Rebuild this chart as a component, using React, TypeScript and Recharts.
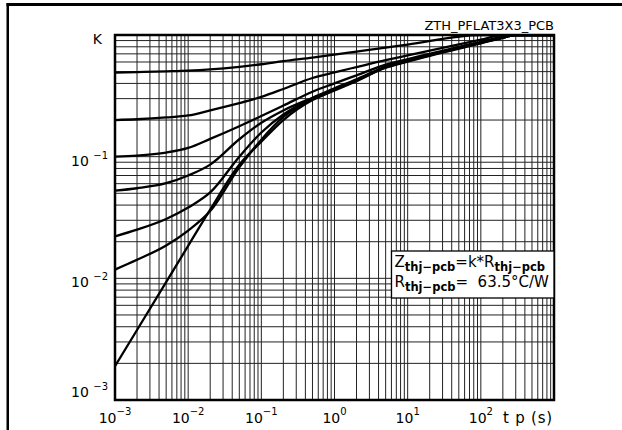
import React from 'react';
import { LineChart, Line, XAxis, YAxis, CartesianGrid, ReferenceArea } from 'recharts';

// pulse duration t p (s)
const tValues = [0.001, 0.002, 0.005, 0.01, 0.02, 0.05, 0.1, 0.2, 0.5, 1, 2, 5, 10, 100, 200, 300, 1000];

// K for each duty cycle
const kD050 = [0.49, 0.495, 0.503, 0.51, 0.522, 0.548, 0.575, 0.61, 0.653, 0.69, 0.73, 0.787, 0.835, 1, 1, 1, 1];
const kD020 = [0.2, 0.203, 0.21, 0.218, 0.24, 0.275, 0.31, 0.36, 0.443, 0.493, 0.545, 0.621, 0.68, 0.915, 1, 1, 1];
const kD010 = [0.1, 0.102, 0.108, 0.118, 0.14, 0.178, 0.216, 0.263, 0.342, 0.4, 0.466, 0.57, 0.635, 0.879, 0.97, 1, 1];
const kD005 = [0.0525, 0.055, 0.0605, 0.07, 0.086, 0.139, 0.19, 0.24, 0.305, 0.365, 0.432, 0.55, 0.62, 0.87, 0.955, 1, 1];
const kD002 = [0.0221, 0.0251, 0.0307, 0.0382, 0.0508, 0.1, 0.158, 0.222, 0.3, 0.36, 0.427, 0.546, 0.615, 0.865, 0.952, 1, 1];
const kD001 = [0.0118, 0.0142, 0.0186, 0.0247, 0.0357, 0.0817, 0.138, 0.212, 0.296, 0.355, 0.422, 0.542, 0.61, 0.86, 0.95, 1, 1];
const kSingle = [0.0019, 0.00376, 0.0093, 0.0185, 0.0367, 0.0858, 0.133, 0.2, 0.292, 0.35, 0.418, 0.538, 0.605, 0.855, 0.948, 1, 1];

const seriesKeys = ['d050', 'd020', 'd010', 'd005', 'd002', 'd001', 'single'];
const seriesValues = [kD050, kD020, kD010, kD005, kD002, kD001, kSingle];

// axis ticks
const xDecades = [0.001, 0.01, 0.1, 1, 10, 100];
const xDecadeExp = ['\u22123', '\u22122', '\u22121', '0', '1', '2'];
const xEndValue = 1000;
const xEndLabel = 't p (s)';
const yDecades = [0.001, 0.01, 0.1];
const yDecadeExp = ['\u22123', '\u22122', '\u22121'];
const yTopValue = 1;
const yTopLabel = 'K';
const minorMult = [1, 2, 3, 4, 5, 6, 7, 8, 9];

const xTicks = [...xDecades.flatMap((d) => minorMult.map((m) => +(m * d).toPrecision(3))), xEndValue];
const yTicks = [...yDecades.flatMap((d) => minorMult.map((m) => +(m * d).toPrecision(3))), yTopValue];

const titleText = 'ZTH_PFLAT3X3_PCB';
const subText = 'thj\u2212pcb';
const rthValue = '63.5\u00B0C/W';

const data = tValues.map((t, i) => {
  const row: Record<string, number> = { t };
  seriesKeys.forEach((k, j) => {
    row[k] = seriesValues[j][i];
  });
  return row;
});

const FONT = '"DejaVu Sans", sans-serif';

const findIdx = (arr: number[], v: number) => arr.findIndex((d) => Math.abs(d - v) / d < 1e-6);

const XTick = (props: any) => {
  const { x, y, payload } = props;
  const v = payload.value;
  if (Math.abs(v - xEndValue) < 1e-6) {
    return (
      <text x={x - 1} y={y + 15} textAnchor="end" fontFamily={FONT} fontSize={15} letterSpacing={0.8} fill="#000">
        {xEndLabel}
      </text>
    );
  }
  const idx = findIdx(xDecades, v);
  if (idx < 0) return <g />;
  return (
    <text x={x} y={y + 15} textAnchor="middle" fontFamily={FONT} fontSize={14} fill="#000">
      <tspan>10</tspan>
      <tspan dy={-8} fontSize={10}>{xDecadeExp[idx]}</tspan>
    </text>
  );
};

const YTick = (props: any) => {
  const { x, y, payload } = props;
  const v = payload.value;
  if (Math.abs(v - yTopValue) < 1e-6) {
    return (
      <text x={x - 5} y={y + 9} textAnchor="end" fontFamily={FONT} fontSize={14} fill="#000">
        {yTopLabel}
      </text>
    );
  }
  const idx = findIdx(yDecades, v);
  if (idx < 0) return <g />;
  const off = idx === 0 ? -3 : 9;
  return (
    <text x={x + 1} y={y + off} textAnchor="end" fontFamily={FONT} fontSize={14} fill="#000">
      <tspan>{'10\u00A0'}</tspan>
      <tspan dy={-7} fontSize={10}>{yDecadeExp[idx]}</tspan>
    </text>
  );
};

export default function App() {
  return (
    <div style={{ position: 'absolute', left: 0, top: 0, width: 622, height: 430, background: '#fff' }}>
      <LineChart
        width={622}
        height={430}
        data={data}
        margin={{ top: 35, right: 68, bottom: 0, left: 0 }}
      >
        <CartesianGrid stroke="#222" strokeWidth={1} />
        <XAxis
          dataKey="t"
          type="number"
          scale="log"
          domain={[0.001, 1000]}
          allowDataOverflow
          ticks={xTicks}
          interval={0}
          tick={<XTick />}
          tickLine={false}
          axisLine={false}
          height={30}
        />
        <YAxis
          type="number"
          scale="log"
          domain={[0.001, 1]}
          allowDataOverflow
          ticks={yTicks}
          interval={0}
          tick={<YTick />}
          tickLine={false}
          axisLine={false}
          width={115}
        />
        {seriesKeys.map((k) => (
          <Line
            key={k}
            dataKey={k}
            type="monotone"
            stroke="#000"
            strokeWidth={2.3}
            dot={false}
            isAnimationActive={false}
          />
        ))}
        <ReferenceArea
          x1={0.001}
          x2={1000}
          y1={0.001}
          y2={1}
          fill="none"
          fillOpacity={0}
          stroke="#000"
          strokeWidth={2.5}
        />
      </LineChart>
      <svg
        width={622}
        height={430}
        style={{ position: 'absolute', left: 0, top: 0, pointerEvents: 'none' }}
      >
        <rect x={6.5} y={3} width={2.5} height={427} fill="#000" />
        <rect x={6.5} y={3} width={616} height={3} fill="#000" />
        <text x={554} y={30} textAnchor="end" fontFamily={FONT} fontSize={13} fill="#000">
          {titleText}
        </text>
        <rect x={391.5} y={251} width={162.5} height={47} fill="#fff" stroke="#000" strokeWidth={1.3} />
        <text x={394.5} y={267} fontFamily={FONT} fontSize={15} fill="#000">
          <tspan>Z</tspan>
          <tspan dy={4} fontSize={11.5} fontWeight="bold">{subText}</tspan>
          <tspan dy={-4}>=k*R</tspan>
          <tspan dy={4} fontSize={11.5} fontWeight="bold">{subText}</tspan>
        </text>
        <text x={394.5} y={287} fontFamily={FONT} fontSize={15} fill="#000">
          <tspan>R</tspan>
          <tspan dy={4} fontSize={11.5} fontWeight="bold">{subText}</tspan>
          <tspan dy={-4}>{'=\u00A0\u00A0' + rthValue}</tspan>
        </text>
      </svg>
    </div>
  );
}
